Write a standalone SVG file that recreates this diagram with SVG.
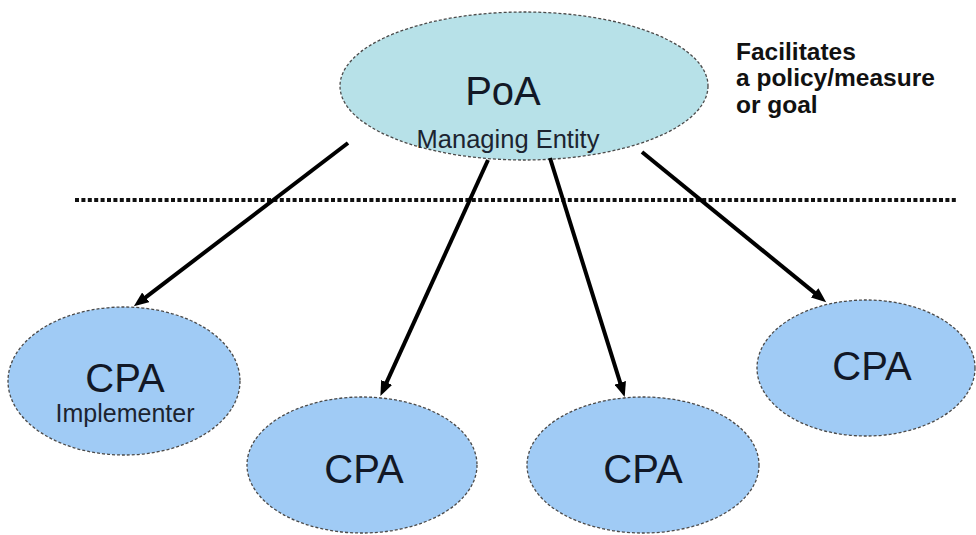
<svg xmlns="http://www.w3.org/2000/svg" width="976" height="535" viewBox="0 0 976 535">
  <defs>
    <marker id="arrow" markerUnits="userSpaceOnUse" markerWidth="16" markerHeight="12" refX="8" refY="6" orient="auto">
      <path d="M0,0 L15,6 L0,12 z" fill="#000"/>
    </marker>
    <style>
      .poa { fill: #b7e1e8; stroke: #4a4a4a; stroke-width: 1.3; stroke-dasharray: 3 2; }
      .cpa { fill: #a0cbf5; stroke: #4a4a4a; stroke-width: 1.3; stroke-dasharray: 3 2; }
      .big { font-family: "Liberation Sans", Arial, sans-serif; font-size: 40px; fill: #121826; text-anchor: middle; }
      .small { font-family: "Liberation Sans", Arial, sans-serif; font-size: 25px; fill: #1c2430; text-anchor: middle; }
      .note { font-family: "Liberation Sans", Arial, sans-serif; font-size: 24.5px; font-weight: bold; fill: #111; }
      .link { stroke: #000; stroke-width: 4; fill: none; marker-end: url(#arrow); }
    </style>
  </defs>

  <rect width="976" height="535" fill="#ffffff"/>

  <!-- boundary line between managing level and implementing level -->
  <line x1="75" y1="200" x2="958" y2="200" stroke="#111" stroke-width="4" stroke-dasharray="4 2.4"/>

  <g id="poa">
    <ellipse class="poa" cx="524" cy="86" rx="184" ry="74"/>
    <text class="big" x="503" y="105">PoA</text>
    <text class="small" x="508" y="148" style="font-size:25.5px">Managing Entity</text>
  </g>

  <g id="note">
    <text class="note" x="736" y="60">Facilitates</text>
    <text class="note" x="736" y="86">a policy/measure</text>
    <text class="note" x="736" y="113">or goal</text>
  </g>

  <g id="cpa1">
    <ellipse class="cpa" cx="124" cy="381" rx="116" ry="74"/>
    <text class="big" x="125" y="392">CPA</text>
    <text class="small" x="125" y="422">Implementer</text>
  </g>

  <g id="cpa2">
    <ellipse class="cpa" cx="362" cy="465" rx="115" ry="68"/>
    <text class="big" x="364" y="483">CPA</text>
  </g>

  <g id="cpa3">
    <ellipse class="cpa" cx="643" cy="465" rx="116" ry="68"/>
    <text class="big" x="643" y="483">CPA</text>
  </g>

  <g id="cpa4">
    <ellipse class="cpa" cx="866" cy="368" rx="109" ry="68"/>
    <text class="big" x="872" y="380">CPA</text>
  </g>

  <g id="connectors">
    <line class="link" x1="348" y1="143" x2="139.4" y2="302.1"/>
    <line class="link" x1="488" y1="160" x2="383.3" y2="389.7"/>
    <line class="link" x1="550" y1="158" x2="622.6" y2="390.4"/>
    <line class="link" x1="642" y1="152" x2="820.8" y2="297.9"/>
  </g>
</svg>
